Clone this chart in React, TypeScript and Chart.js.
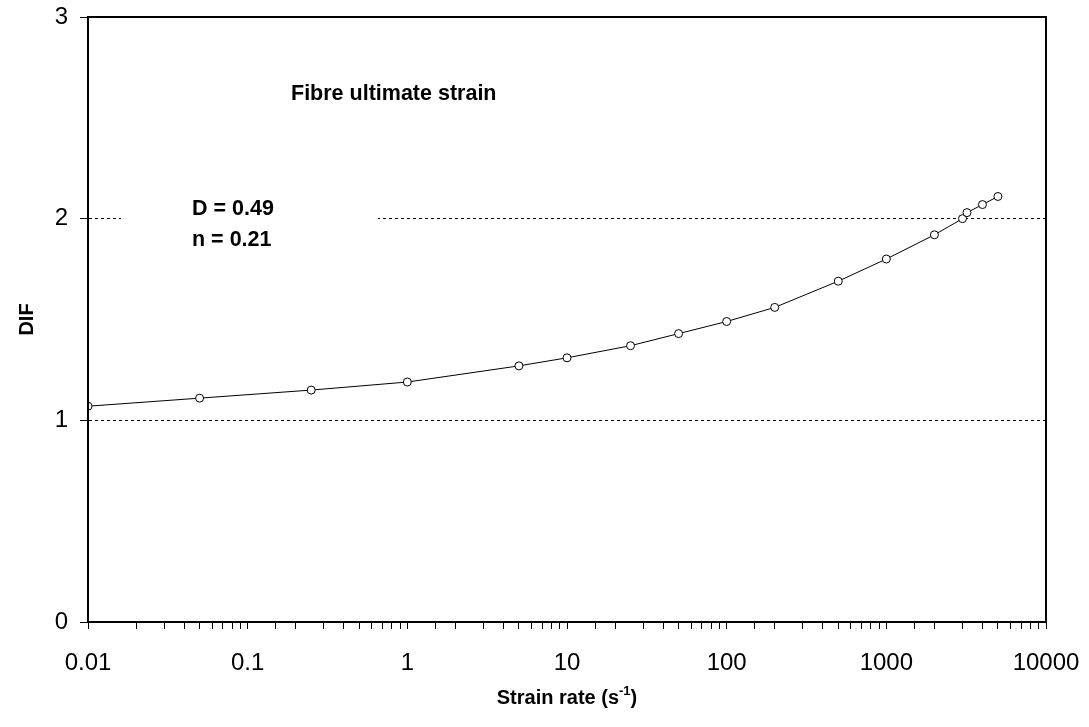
import React, { useEffect, useRef } from "react";
import { Chart, registerables } from "chart.js";

Chart.register(...registerables);

// Strain rate (1/s) and dynamic increase factor
const strainRate = [0.01, 0.05, 0.25, 1, 5, 10, 25, 50, 100, 200, 500, 1000, 2000, 3000, 3200, 4000, 5000];
const dif = [1.07, 1.11, 1.15, 1.19, 1.27, 1.31, 1.37, 1.43, 1.49, 1.56, 1.69, 1.8, 1.92, 2.0, 2.03, 2.07, 2.11];

const yTicks = [0, 1, 2, 3];
const plotTitle = "Fibre ultimate strain";
const paramLines = ["D = 0.49", "n = 0.21"];
const xTitle = "Strain rate (s";
const xTitleSup = "-1";
const yTitle = "DIF";

const FONT = "'Liberation Sans', Arial, sans-serif";

const annotations = {
  id: "annotations",
  beforeDatasetsDraw(chart: any) {
    const { ctx } = chart;
    const x = chart.scales.x;
    const y = chart.scales.y;
    ctx.save();
    // white panel behind the parameter text
    ctx.fillStyle = "#fff";
    ctx.fillRect(x.left + 33, y.getPixelForValue(2) - 20, 257, 60);
    ctx.fillStyle = "#000";
    ctx.font = `bold 21.5px ${FONT}`;
    ctx.textBaseline = "middle";
    ctx.textAlign = "left";
    ctx.fillText(plotTitle, 291, y.getPixelForValue(2.62));
    ctx.fillText(paramLines[0], 192, y.getPixelForValue(2.05));
    ctx.fillText(paramLines[1], 192, y.getPixelForValue(1.895));
    ctx.restore();
  },
  afterDraw(chart: any) {
    const { ctx, chartArea } = chart;
    ctx.save();
    ctx.strokeStyle = "#000";
    ctx.lineWidth = 2;
    ctx.strokeRect(chartArea.left, chartArea.top, chartArea.right - chartArea.left, chartArea.bottom - chartArea.top);

    // x-axis title with superscript
    ctx.fillStyle = "#000";
    ctx.textBaseline = "alphabetic";
    const big = `bold 20px ${FONT}`;
    const small = `bold 13px ${FONT}`;
    ctx.font = big;
    const w1 = ctx.measureText(xTitle).width;
    const wp = ctx.measureText(")").width;
    ctx.font = small;
    const ws = ctx.measureText(xTitleSup).width;
    const total = w1 + ws + wp;
    const cx = (chartArea.left + chartArea.right) / 2;
    let sx = cx - total / 2;
    const base = 704;
    ctx.font = big;
    ctx.textAlign = "left";
    ctx.fillText(xTitle, sx, base);
    sx += w1;
    ctx.font = small;
    ctx.fillText(xTitleSup, sx, base - 9);
    sx += ws;
    ctx.font = big;
    ctx.fillText(")", sx, base);

    // y-axis title
    ctx.translate(27, (chartArea.top + chartArea.bottom) / 2);
    ctx.rotate(-Math.PI / 2);
    ctx.textAlign = "center";
    ctx.textBaseline = "middle";
    ctx.font = `bold 20px ${FONT}`;
    ctx.fillText(yTitle, 0, 0);
    ctx.restore();
  },
};

export default function App() {
  const ref = useRef<HTMLCanvasElement>(null);

  useEffect(() => {
    document.body.style.margin = "0";
    const chart = new Chart(ref.current!, {
      type: "line",
      data: {
        datasets: [
          {
            data: strainRate.map((s, i) => ({ x: s, y: dif[i] })),
            borderColor: "#000",
            borderWidth: 1,
            pointRadius: 4,
            pointBackgroundColor: "#fff",
            pointBorderColor: "#000",
            pointBorderWidth: 1,
            tension: 0,
          },
        ],
      },
      options: {
        animation: false,
        responsive: false,
        layout: { padding: { top: 17, right: 43, left: 0, bottom: 0 } },
        plugins: { legend: { display: false }, tooltip: { enabled: false } },
        scales: {
          x: {
            type: "logarithmic",
            min: 0.01,
            max: 10000,
            afterFit(scale: any) {
              scale.height = 105;
              scale.paddingLeft = 0;
              scale.paddingRight = 0;
            },
            border: { display: true, color: "#000", width: 2 },
            grid: {
              drawOnChartArea: false,
              drawTicks: true,
              tickLength: 7,
              tickColor: "#000",
              tickWidth: 1,
            },
            ticks: {
              autoSkip: false,
              maxRotation: 0,
              padding: 20,
              color: "#000",
              font: { family: FONT, size: 24 },
              callback(value: any) {
                const v = Number(value);
                const l = Math.log10(v);
                if (Math.abs(l - Math.round(l)) < 1e-9) {
                  return String(v >= 1 ? Math.round(v) : Number(v.toPrecision(1)));
                }
                return "";
              },
            },
          },
          y: {
            min: 0,
            max: 3,
            afterFit(scale: any) {
              scale.width = 88;
              scale.paddingTop = 0;
              scale.paddingBottom = 0;
            },
            afterBuildTicks(scale: any) {
              scale.ticks = yTicks.map((v) => ({ value: v }));
            },
            border: { display: true, color: "#000", width: 2, dash: [3, 3] },
            grid: {
              drawTicks: true,
              tickLength: 8,
              tickColor: "#000",
              tickWidth: 1,
              lineWidth: 1,
              color: (c: any) => (c.tick && (c.tick.value === 1 || c.tick.value === 2) ? "#000" : "rgba(0,0,0,0)"),
              tickBorderDash: [],
            },
            ticks: {
              padding: 12,
              color: "#000",
              font: { family: FONT, size: 24 },
              callback: (v: any) => String(v),
            },
          },
        },
      },
      plugins: [annotations],
    } as any);
    return () => chart.destroy();
  }, []);

  return <canvas ref={ref} width={1089} height={727} style={{ display: "block" }} />;
}
